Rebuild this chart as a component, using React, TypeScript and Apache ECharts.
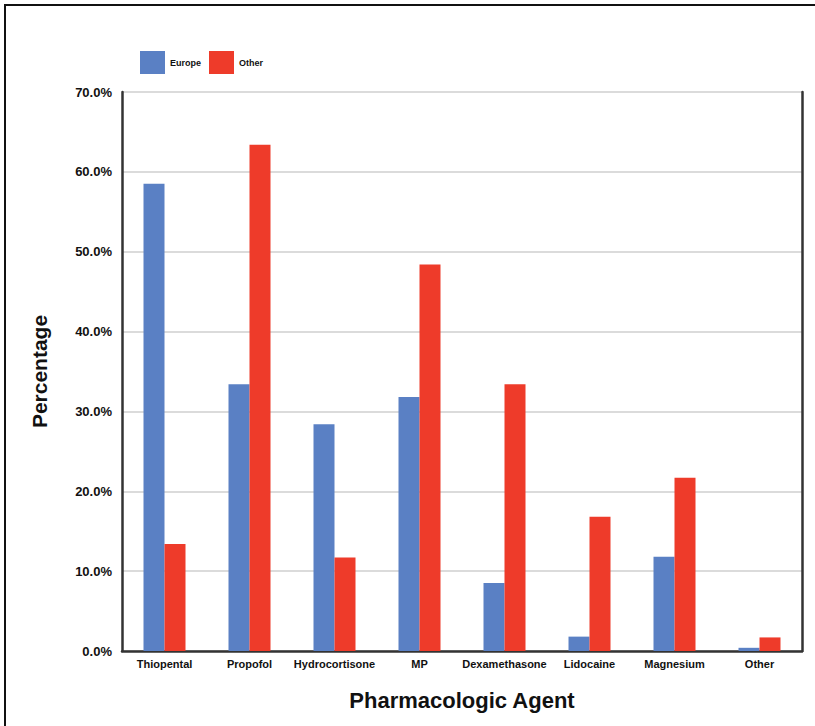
import React, { useEffect, useRef } from "react";
import * as echarts from "echarts";

const categories = ["Thiopental", "Propofol", "Hydrocortisone", "MP", "Dexamethasone", "Lidocaine", "Magnesium", "Other"];
const europeValues = [58.5, 33.4, 28.4, 31.8, 8.5, 1.8, 11.8, 0.4];
const otherValues = [13.4, 63.4, 11.7, 48.4, 33.4, 16.8, 21.7, 1.7];
const seriesNames = ["Europe", "Other"];

const FONT = "'Liberation Sans', Arial, sans-serif";

export default function App() {
  const ref = useRef<HTMLDivElement>(null);
  useEffect(() => {
    if (!ref.current) return;
    const chart = echarts.init(ref.current, null, { renderer: "svg" });
    chart.setOption({
      animation: false,
      backgroundColor: "#fff",
      textStyle: { fontFamily: FONT },
      graphic: [
        {
          type: "polyline",
          shape: { points: [[5, 730], [5, 5], [820, 5]] },
          style: { fill: "none", stroke: "#111", lineWidth: 2 },
          silent: true,
        },
      ],
      legend: {
        left: 135,
        top: 46,
        itemWidth: 25,
        itemHeight: 23,
        itemGap: 8,
        icon: "rect",
        textStyle: { fontSize: 9, fontWeight: "bold", color: "#111", fontFamily: FONT },
        data: seriesNames,
      },
      grid: { left: 122, right: 13, top: 92, bottom: 75, containLabel: false },
      xAxis: {
        type: "category",
        data: categories,
        name: "Pharmacologic Agent",
        nameLocation: "middle",
        nameGap: 38,
        nameTextStyle: { fontSize: 22, fontWeight: "bold", color: "#111", fontFamily: FONT },
        axisLine: { show: true, lineStyle: { color: "#333", width: 2.5 } },
        axisTick: { show: false },
        axisLabel: { interval: 0, margin: 7, fontSize: 11, fontWeight: "bold", color: "#111", fontFamily: FONT },
      },
      yAxis: [
        {
          type: "value",
          min: 0,
          max: 70,
          interval: 10,
          name: "Percentage",
          nameLocation: "middle",
          nameGap: 72,
          nameTextStyle: { fontSize: 21, fontWeight: "bold", color: "#111", fontFamily: FONT },
          axisLine: { show: true, lineStyle: { color: "#333", width: 2.5 } },
          axisTick: { show: false },
          axisLabel: {
            margin: 10,
            fontSize: 13,
            fontWeight: "bold",
            color: "#111",
            fontFamily: FONT,
            formatter: (v: number) => v.toFixed(1) + "%",
          },
          splitLine: { show: true, lineStyle: { color: "#cfcfcf", width: 1.5 } },
        },
        {
          type: "value",
          min: 0,
          max: 70,
          interval: 10,
          position: "right",
          axisLine: { show: true, lineStyle: { color: "#333", width: 2.5 } },
          axisTick: { show: false },
          axisLabel: { show: false },
          splitLine: { show: false },
        },
      ],
      series: [
        {
          name: seriesNames[0],
          type: "bar",
          data: europeValues,
          barWidth: 21,
          barGap: "0%",
          itemStyle: { color: "#5A80C4" },
        },
        {
          name: seriesNames[1],
          type: "bar",
          data: otherValues,
          barWidth: 21,
          barGap: "0%",
          itemStyle: { color: "#EE3B2A" },
        },
      ],
    });
    return () => chart.dispose();
  }, []);
  return (
    <div
      ref={ref}
      style={{ position: "absolute", left: 0, top: 0, width: 815, height: 726 }}
    />
  );
}
